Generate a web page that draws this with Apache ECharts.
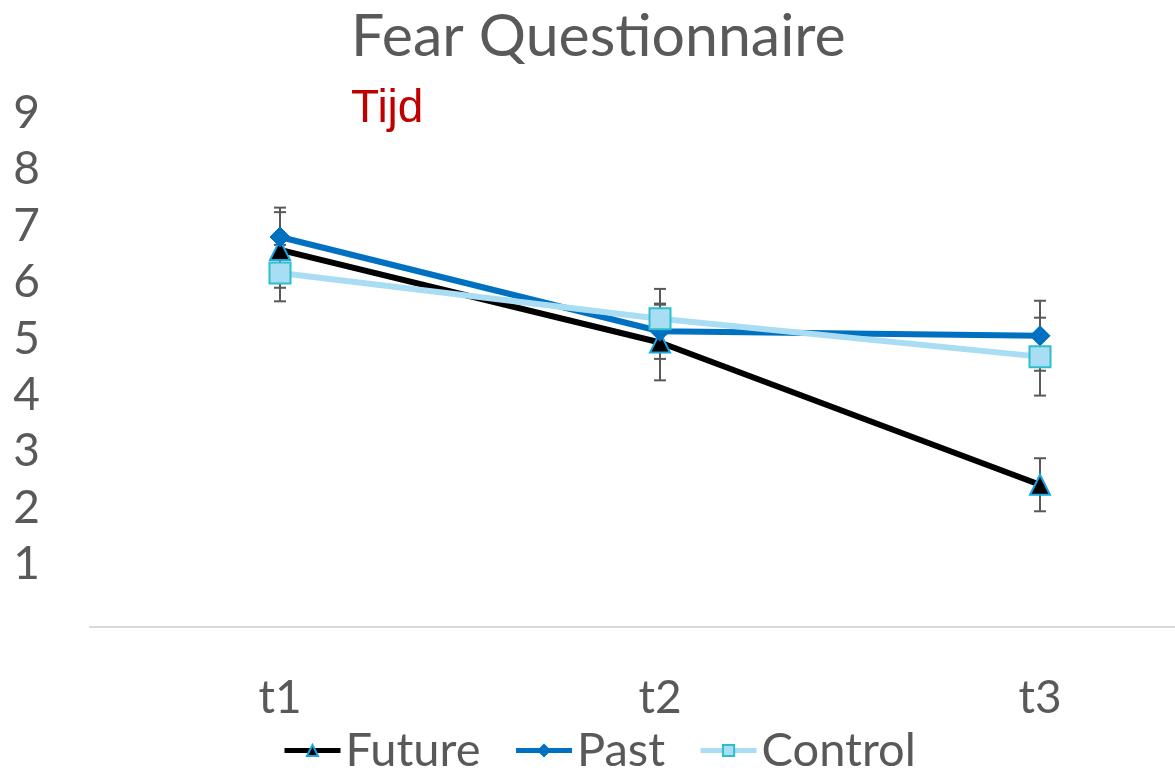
<!DOCTYPE html>
<html>
<head>
<meta charset="utf-8">
<script src="https://cdn.jsdelivr.net/npm/echarts@6/dist/echarts.min.js"></script>
<style>html,body{margin:0;padding:0;background:#fff;}#c{width:1175px;height:775px;}</style>
</head>
<body>
<div id="c"></div>
<script>
const categories = ['t1', 't2', 't3'];
const seriesNames = ['Future', 'Past', 'Control'];
const future = [6.68, 5.04, 2.52];
const past = [6.91, 5.24, 5.16];
const control = [6.27, 5.46, 4.79];
const futureErr = [0.67, 0.67, 0.47];
const pastErr = [0.52, 0.49, 0.62];
const controlErr = [0.50, 0.53, 0.69];
const titleText = 'Fear Questionnaire';
const subText = 'Tijd';

const FONT = 'Lato';
const GREY = '#595959';

function errData(vals, errs) {
  return vals.map((v, i) => [i, v - errs[i], v + errs[i]]);
}
function renderErr(params, api) {
  const i = api.value(0);
  const lo = api.coord([i, api.value(1)]);
  const hi = api.coord([i, api.value(2)]);
  const hw = 6;
  const st = { stroke: GREY, lineWidth: 2 };
  return {
    type: 'group',
    children: [
      { type: 'line', shape: { x1: lo[0], y1: lo[1], x2: hi[0], y2: hi[1] }, style: st },
      { type: 'line', shape: { x1: lo[0] - hw, y1: lo[1], x2: lo[0] + hw, y2: lo[1] }, style: st },
      { type: 'line', shape: { x1: hi[0] - hw, y1: hi[1], x2: hi[0] + hw, y2: hi[1] }, style: st }
    ]
  };
}
function errSeries(name, vals, errs) {
  return {
    name: name + ' err', type: 'custom', renderItem: renderErr,
    data: errData(vals, errs), z: 1, silent: true,
    encode: { x: 0, y: [1, 2] }
  };
}

const chart = echarts.init(document.getElementById('c'), null, { renderer: 'canvas' });
chart.setOption({
  animation: false,
  backgroundColor: '#fff',
  title: [
    { text: titleText, left: 346, top: 2,
      textStyle: { fontFamily: FONT, fontSize: 59, fontWeight: 'normal', color: GREY } },
    { text: subText, left: 346, top: 81,
      textStyle: { fontFamily: 'Liberation Sans', fontSize: 46, fontWeight: 'normal', color: '#C00000' } }
  ],
  grid: { left: 90, width: 1140, top: 119, bottom: 148, outerBoundsMode: 'none', containLabel: false },
  legend: {
    data: seriesNames, top: 722, left: 277, itemGap: 33, itemWidth: 56, itemHeight: 14,
    lineStyle: { width: 5 },
    textStyle: { fontFamily: FONT, fontSize: 47, color: GREY, padding: 0 }
  },
  xAxis: {
    type: 'category', data: categories, boundaryGap: true,
    axisLine: { show: true, lineStyle: { color: '#d9d9d9', width: 2 } },
    axisTick: { show: false },
    axisLabel: { fontFamily: FONT, fontSize: 46, color: GREY, margin: 48 }
  },
  yAxis: {
    type: 'value', min: 0, max: 9, interval: 1,
    axisLine: { show: false }, axisTick: { show: false }, splitLine: { show: false },
    axisLabel: { fontFamily: FONT, fontSize: 46, color: GREY, margin: 50, showMinLabel: false,
      verticalAlign: 'bottom', lineHeight: 12,
      formatter: v => (v === 0 ? '' : String(v)) }
  },
  series: [
    errSeries('Future', future, futureErr),
    errSeries('Past', past, pastErr),
    errSeries('Control', control, controlErr),
    { name: 'Future', type: 'line', data: future, z: 3,
      symbol: 'triangle', symbolSize: 20,
      lineStyle: { color: '#000000', width: 6 },
      itemStyle: { color: '#000000', borderColor: '#1AA6E0', borderWidth: 2 } },
    { name: 'Past', type: 'line', data: past, z: 3,
      symbol: 'diamond', symbolSize: 20,
      lineStyle: { color: '#0070C0', width: 6 },
      itemStyle: { color: '#0070C0', borderColor: '#0070C0', borderWidth: 1 } },
    { name: 'Control', type: 'line', data: control, z: 3,
      symbol: 'rect', symbolSize: 21,
      lineStyle: { color: '#A9DDF3', width: 6 },
      itemStyle: { color: '#A9DDF3', borderColor: '#2CBFCB', borderWidth: 2 } }
  ]
});
</script>
</body>
</html>
